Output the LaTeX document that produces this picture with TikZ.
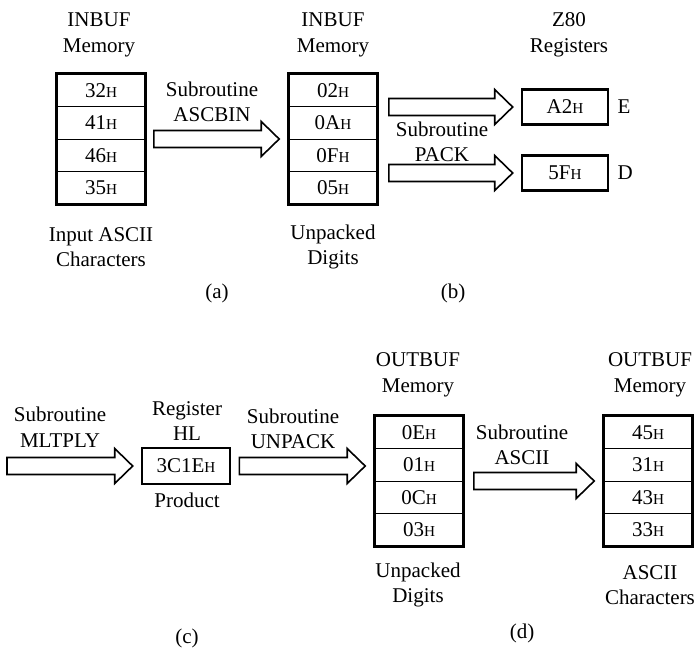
\documentclass[tikz,border=0pt]{standalone}
\usepackage{fontspec}
\setmainfont{Liberation Serif}
\usetikzlibrary{calc,fit}
\newcommand{\hsc}{{\fontsize{7.6}{8}\selectfont H}}
\tikzset{
  cell/.style={draw, line width=0.5pt, minimum width=44pt, minimum height=16.25pt, inner sep=0pt},
  mem/.style={draw, line width=1.3pt, inner sep=0pt},
  reg/.style={draw, line width=1.3pt, minimum width=43pt, minimum height=17.5pt, inner sep=0pt},
  lbl/.style={align=center},
  fat/.style={line width=0.8pt, line join=miter},
}
% thick hollow arrow: tail at #1 (gives x and y), tip 4pt short of #2.west
\newcommand{\fatarrow}[2]{%
  \draw[fat] let \p1=(#1), \p2=(#2.west) in
    (\x1,\y1+4.25pt) -- (\x2-13pt,\y1+4.25pt) -- (\x2-13pt,\y1+8.75pt)
    -- (\x2-4pt,\y1) -- (\x2-13pt,\y1-8.75pt) -- (\x2-13pt,\y1-4.25pt)
    -- (\x1,\y1-4.25pt) -- cycle;}
\begin{document}
\begin{tikzpicture}[x=0.5pt, y=0.5pt, font=\fontsize{10.5}{12.75}\selectfont]
  \useasboundingbox (0,0) rectangle (696,-650);
  % (a) INBUF, ASCII characters
  \node[lbl] (hdA) at (99,-35) {INBUF\\Memory};
  \foreach \v [count=\i] in {32,41,46,35}
    \node[cell] (ina\i) at (101,-57.75-32.5*\i) {\v\hsc};
  \node[mem, fit=(ina1)(ina4)] (memA) {};
  \node[lbl] (ftA) at (101,-247) {Input ASCII\\Characters};
  \node (capA) at (217,-293) {(a)};
  % INBUF, unpacked digits
  \node[lbl] (hdB) at (333,-35) {INBUF\\Memory};
  \foreach \v [count=\i] in {02,0A,0F,05}
    \node[cell] (inb\i) at (333,-57.75-32.5*\i) {\v\hsc};
  \node[mem, fit=(inb1)(inb4)] (memB) {};
  \node[lbl] (ftB) at (333,-247) {Unpacked\\Digits};
  \node[lbl] (lbAscbin) at (212,-102) {Subroutine\\ASCBIN};
  \fatarrow{[xshift=3.5pt]memA.east}{memB}
  % (b) Z80 registers
  \node[lbl] (hdR) at (569,-35) {Z80\\Registers};
  \node[reg] (regE) at (565,-107) {A2\hsc};
  \node[reg] (regD) at (565,-173) {5F\hsc};
  \node[anchor=west, inner sep=0pt] (nmE) at ([xshift=4pt]regE.east) {E};
  \node[anchor=west, inner sep=0pt] (nmD) at ([xshift=4pt]regD.east) {D};
  \node[lbl] (lbPack) at (442,-142) {Subroutine\\PACK};
  \fatarrow{[xshift=5pt]memB.east |- regE}{regE}
  \fatarrow{[xshift=5pt]memB.east |- regD}{regD}
  \node (capB) at (453,-293) {(b)};
  % (c) product in HL
  \coordinate (mstart) at (7,-466);
  \node[lbl] (lbMult) at (60,-427) {Subroutine\\MLTPLY};
  \node[lbl] (hdHL) at (187,-421) {Register\\HL};
  \node[reg, minimum width=44pt, minimum height=18pt] (regHL) at (186,-466) {3C1E\hsc};
  \node (ftHL) at (187,-500) {Product};
  \fatarrow{mstart}{regHL}
  \node (capC) at (187,-638) {(c)};
  % (d) OUTBUF, unpacked digits and ASCII characters
  \node[lbl] (hdC) at (418,-375) {OUTBUF\\Memory};
  \foreach \v [count=\i] in {0E,01,0C,03}
    \node[cell] (outa\i) at (419,-399.75-32.5*\i) {\v\hsc};
  \node[mem, fit=(outa1)(outa4)] (memC) {};
  \node[lbl] (ftC) at (418,-585) {Unpacked\\Digits};
  \node[lbl] (lbUnpack) at (293,-429) {Subroutine\\UNPACK};
  \fatarrow{[xshift=4pt]regHL.east}{memC}
  \node[lbl] (hdD) at (650,-375) {OUTBUF\\Memory};
  \foreach \v [count=\i] in {45,31,43,33}
    \node[cell] (outb\i) at (648,-399.75-32.5*\i) {\v\hsc};
  \node[mem, fit=(outb1)(outb4)] (memD) {};
  \node[lbl] (ftD) at (650,-585) {ASCII\\Characters};
  \node[lbl] (lbAscii) at (522,-445) {Subroutine\\ASCII};
  \fatarrow{[xshift=4.5pt]memC.east}{memD}
  \node (capD) at (522,-633) {(d)};
\end{tikzpicture}
\end{document}
